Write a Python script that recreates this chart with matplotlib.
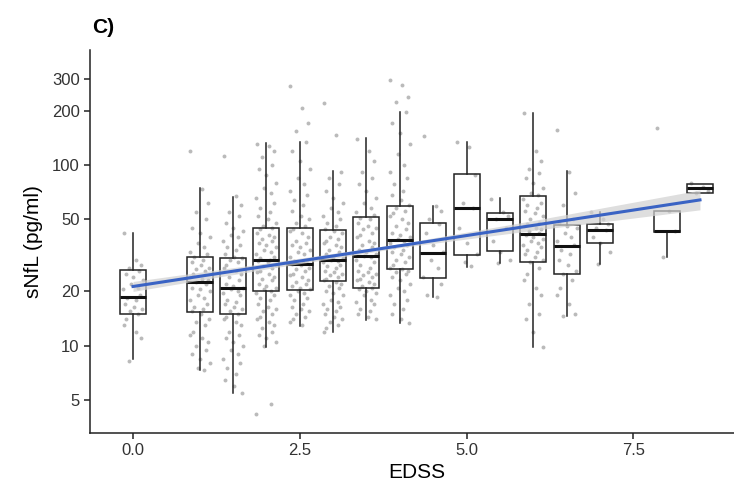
import numpy as np
import matplotlib.pyplot as plt

# EDSS groups and box statistics (pg/ml)
edss = [0.0, 1.0, 1.5, 2.0, 2.5, 3.0, 3.5, 4.0, 4.5, 5.0, 5.5, 6.0, 6.5, 7.0, 8.0, 8.5]
whislo = [8.5, 7.4, 5.5, 9.9, 12.9, 12.0, 13.9, 13.3, 18.6, 27.4, 28.6, 9.9, 14.7, 28.3, 31.1, 69.8]
q1 = [15.0, 15.4, 15.1, 20.2, 20.4, 22.9, 21.0, 26.6, 23.7, 31.8, 33.5, 29.2, 24.9, 36.9, 42.5, 69.8]
med = [18.7, 22.5, 20.8, 29.9, 28.4, 29.9, 31.5, 38.5, 32.5, 58.1, 50.3, 41.6, 35.8, 43.7, 43.2, 74.3]
q3 = [26.3, 31.1, 30.5, 45.1, 44.7, 43.7, 51.8, 59.6, 47.6, 88.8, 54.1, 67.7, 46.6, 47.2, 55.9, 78.2]
whishi = [42.3, 74.3, 66.8, 131.8, 134.5, 92.7, 140.4, 197.0, 59.6, 134.5, 65.5, 194.5, 92.7, 55.2, 55.9, 78.2]

# individual sNfL values per EDSS group
pts = {
    0.0: [42, 30, 28, 27, 26, 25, 24, 23, 22, 21, 20.5, 19, 18.5, 18, 17, 16.5, 16, 15.5,
          15, 14, 13, 12, 11, 8.3],
    1.0: [120, 74, 62, 55, 50, 45, 42, 40, 37, 35, 33, 32, 31, 30, 29, 28, 27, 26.5, 26, 25,
          24, 23.5, 23, 22.5, 22, 21, 20.5, 20, 19, 18.5, 18, 17, 16.5, 16, 15.5, 15, 14, 13.5,
          13, 12, 11.5, 11, 10.5, 10, 9.5, 9, 8.5, 8, 7.5, 7.4],
    1.5: [112, 67, 60, 55, 52, 48, 45, 43, 41, 40, 38, 36, 35, 34, 32, 31, 30.5, 30, 29, 28,
          27, 26, 25, 24, 23, 22, 21.5, 21, 20.5, 20, 19.5, 19, 18, 17.5, 17, 16.5, 16, 15.5,
          15, 14.5, 14, 13.5, 13, 12, 11.5, 11, 10.5, 10, 9.5, 9, 8.5, 8, 7.5, 7, 6.5, 6, 5.5],
    2.0: [131, 128, 120, 110, 100, 95, 88, 80, 75, 70, 66, 62, 58, 55, 52, 50, 48, 46, 45, 44,
          42, 41, 40, 39, 38, 37, 36, 35, 34, 33, 32, 31, 30.5, 30, 29.5, 29, 28, 27.5, 27, 26,
          25.5, 25, 24, 23.5, 23, 22, 21.5, 21, 20.5, 20, 19.5, 19, 18.5, 18, 17, 16.5, 16,
          15.5, 15, 14.5, 14, 13.5, 13, 12.5, 12, 11.5, 11, 10.5, 10, 4.8, 4.2],
    2.5: [273, 207, 170, 155, 134, 120, 105, 95, 85, 78, 72, 68, 64, 60, 56, 52, 50, 48, 46,
          44.5, 43, 42, 40, 38, 37, 36, 35, 34, 33, 32, 31, 30, 29.5, 29, 28.5, 28, 27, 26.5,
          26, 25, 24.5, 24, 23, 22.5, 22, 21.5, 21, 20.5, 20, 19.5, 19, 18.5, 18, 17, 16.5, 16,
          15.5, 15, 14.5, 14, 13.5, 13],
    3.0: [221, 146, 92, 85, 78, 72, 66, 62, 58, 55, 52, 50, 48, 46, 44, 43, 42, 40, 39, 38,
          37, 36, 35, 34, 33, 32, 31, 30.5, 30, 29.5, 29, 28, 27.5, 27, 26, 25.5, 25, 24.5, 24,
          23.5, 23, 22.5, 22, 21.5, 21, 20, 19.5, 19, 18, 17.5, 17, 16.5, 16, 15.5, 15, 14.5,
          14, 13.5, 13, 12.5, 12],
    3.5: [140, 120, 105, 92, 85, 78, 72, 66, 62, 58, 55, 53, 51, 50, 48, 46, 45, 44, 42, 41,
          40, 38, 37, 36, 35, 34, 33, 32, 31.5, 31, 30, 29, 28, 27, 26, 25.5, 25, 24.5, 24,
          23.5, 23, 22.5, 22, 21.5, 21, 20.5, 20, 19.5, 19, 18, 17.5, 17, 16, 15.5, 15, 14.5, 14],
    4.0: [295, 277, 237, 224, 197, 170, 150, 130, 115, 100, 92, 85, 78, 72, 68, 64, 60, 58,
          56, 54, 52, 50, 48, 46, 44, 42, 41, 40, 39, 38, 37, 36, 35, 34, 33, 32, 31, 30, 29,
          28, 27, 26.5, 26, 25.5, 25, 24, 23, 22, 21, 20, 19, 18, 17, 16, 15, 14, 13.3],
    4.5: [145, 59, 56, 50, 47, 42, 36, 33, 30, 27, 24, 22, 19, 18.6],
    5.0: [134, 125, 88, 62, 58, 45, 37, 32, 29, 27.5],
    5.5: [65, 55, 52, 50, 45, 38, 33, 30, 28.6],
    6.0: [194, 120, 105, 95, 90, 85, 80, 75, 70, 68, 65, 62, 60, 58, 56, 54, 52, 50, 48, 47,
          46, 45, 44, 43, 42, 41, 40, 39, 38, 37, 36, 35, 34, 33, 32, 31, 30, 29, 27, 25, 23,
          21, 19, 17, 15, 14, 12, 9.9],
    6.5: [156, 92, 70, 60, 50, 48, 46, 45, 42, 40, 38, 36, 34, 32, 30, 28, 26, 25, 23, 21, 19,
          17, 15, 14.7],
    7.0: [55, 50, 47, 45, 43.7, 40, 37, 33, 28.3],
    8.0: [160, 55.9, 43, 31],
    8.5: [80, 76, 72, 70],
}

# linear fit on log scale with confidence band
fit_x = [0.0, 2.0, 4.0, 6.0, 8.5]
fit_y = [21.3, 27.6, 35.8, 46.4, 64.1]
fit_lo = [20.0, 26.6, 34.9, 43.5, 56.5]
fit_hi = [22.7, 28.7, 36.7, 49.3, 72.7]

yticks = [5, 10, 20, 50, 100, 200, 300]
xticks = [0.0, 2.5, 5.0, 7.5]

plt.rcParams['font.family'] = ['Liberation Sans', 'DejaVu Sans']

fig = plt.figure(figsize=(7.34, 4.92), dpi=100)
ax = fig.add_axes([90 / 734, 59 / 492, 653 / 734, 383 / 492])

# jittered points (under the boxes)
jit = [-0.14, 0.04, 0.12, -0.06, 0.09, -0.11, 0.0, 0.15, -0.03, 0.07,
       -0.15, 0.11, -0.09, 0.05, -0.12, 0.02, 0.14, -0.05, 0.08, -0.1]
for g, vals in pts.items():
    xs = [g + jit[k % len(jit)] for k in range(len(vals))]
    ax.scatter(xs, vals, s=8, color='#b3b3b3', alpha=0.9, linewidths=0, zorder=2)

# box plots
stats = []
for i in range(len(edss)):
    stats.append(dict(med=med[i], q1=q1[i], q3=q3[i], whislo=whislo[i], whishi=whishi[i]))
bp = ax.bxp(stats, positions=edss, widths=0.39, showfliers=False, showcaps=False,
            patch_artist=True, manage_ticks=False, zorder=3,
            boxprops=dict(facecolor='none', edgecolor='#222222', linewidth=1.1),
            whiskerprops=dict(color='#222222', linewidth=1.1),
            medianprops=dict(color='#111111', linewidth=2.2))

# fit line
ax.fill_between(fit_x, fit_lo, fit_hi, color='#d0d0d0', alpha=0.7, linewidth=0, zorder=4)
ax.plot([fit_x[0], fit_x[-1]], [fit_y[0], fit_y[-1]], color='#3a63c4', linewidth=2.2, zorder=5)

ax.set_yscale('log')
ax.set_ylim(3.3, 432)
ax.set_xlim(-0.645, 9.145)
ax.set_yticks(yticks)
ax.set_yticklabels([str(t) for t in yticks])
ax.minorticks_off()
ax.set_xticks(xticks)
ax.set_xticklabels(['%.1f' % t for t in xticks])

for side in ['top', 'right']:
    ax.spines[side].set_visible(False)
for side in ['left', 'bottom']:
    ax.spines[side].set_linewidth(1.1)
    ax.spines[side].set_color('#222222')
ax.tick_params(axis='both', length=4.5, width=1.1, color='#222222',
               labelsize=12, labelcolor='#333333', pad=3)

ax.set_xlabel('EDSS', fontsize=15, color='black', labelpad=3)
ax.set_ylabel('sNfL (pg/ml)', fontsize=15, color='black', labelpad=6)

fig.text(92 / 734, 1 - 33 / 492, 'C)', fontsize=15, fontweight='bold', va='baseline')

fig.savefig('out.png', dpi=100)
